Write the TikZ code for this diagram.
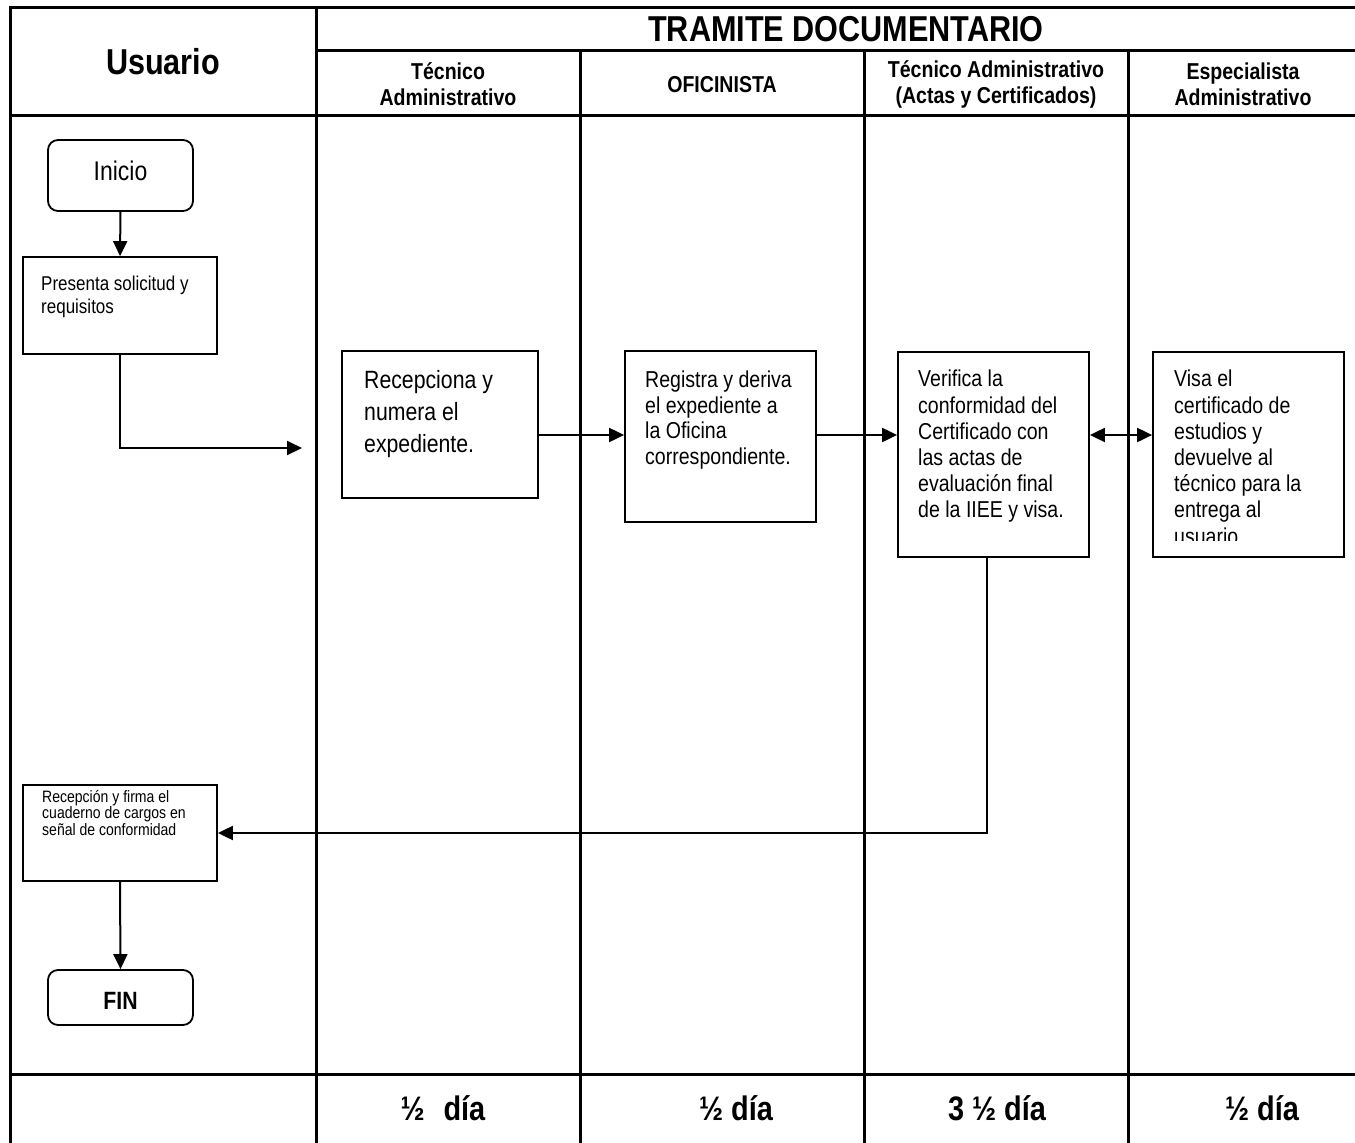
\documentclass[tikz,border=0pt]{standalone}
\usepackage{fontspec}
\setmainfont{Liberation Sans}
\newfontfamily\narrowfont[FakeStretch=0.85]{Liberation Sans}
\usetikzlibrary{arrows.meta}

\begin{document}
\begin{tikzpicture}[x=1pt,y=-1pt,
  tbl/.style={line width=3pt},
  box/.style={draw, line width=1.8pt, inner sep=0pt},
  rbox/.style={box, rounded corners=10pt},
  txt/.style={inner sep=0pt, align=left, anchor=north west, font=\narrowfont},
  head/.style={inner sep=0pt, align=center, font=\narrowfont\bfseries\fontsize{23}{26}\selectfont},
  big/.style={inner sep=0pt, font=\narrowfont\bfseries\fontsize{34}{38}\selectfont},
  title/.style={inner sep=0pt, font=\narrowfont\bfseries\fontsize{36}{40}\selectfont},
  arr/.style={line width=2pt, -{Triangle[length=15pt,width=14pt]}},
  dbl/.style={line width=2pt, {Triangle[length=15pt,width=14pt]}-{Triangle[length=15pt,width=14pt]}},
  link/.style={line width=2pt}]

\useasboundingbox (0,0) rectangle (1355,1143);

% table grid
\draw[tbl] (10,1160) -- (10,7) -- (1370,7);
\draw[tbl] (316,7) -- (316,1160);
\draw[tbl] (316,50) -- (1370,50);
\draw[tbl] (10,115) -- (1370,115);
\draw[tbl] (10,1074) -- (1370,1074);
\foreach \cx in {580,864,1128} \draw[tbl] (\cx,50) -- (\cx,1160);

% headings
\node[title] (hUser) at (163,62) {Usuario};
\node[title] (hTram) at (846,29) {TRAMITE DOCUMENTARIO};
\node[head] (hTec) at (448,84) {Técnico\\Administrativo};
\node[head] (hOfi) at (722,85) {OFICINISTA};
\node[head] (hAct) at (996,84) {Técnico Administrativo\\(Actas y Certificados)};
\node[head] (hEsp) at (1243,84) {Especialista\\Administrativo};

% process boxes
\node[rbox, minimum width=145pt, minimum height=71pt] (inicio) at (120.5,175.5) {};
\node[inner sep=0pt, font=\narrowfont\fontsize{27}{30}\selectfont] at (120.5,171) {Inicio};

\node[box, minimum width=194pt, minimum height=97pt] (pres) at (120,305.5) {};
\node[txt, font=\narrowfont\fontsize{20}{22.5}\selectfont] (presT) at (41,276) {Presenta solicitud y\\requisitos};

\node[box, minimum width=196pt, minimum height=147pt] (recep) at (440,424.5) {};
\node[txt, font=\narrowfont\fontsize{25}{32}\selectfont] (recepT) at (364,370) {Recepciona y\\numera el\\expediente.};

\node[box, minimum width=191pt, minimum height=171pt] (regis) at (720.5,436.5) {};
\node[txt, font=\narrowfont\fontsize{23}{25.5}\selectfont] (regisT) at (645,371) {Registra y deriva\\el expediente a\\la Oficina\\correspondiente.};

\node[box, minimum width=191pt, minimum height=205pt] (verif) at (993.5,454.5) {};
\node[txt, font=\narrowfont\fontsize{23}{26.2}\selectfont] (verifT) at (918,370) {Verifica la\\conformidad del\\Certificado con\\las actas de\\evaluación final\\de la IIEE y visa.};

\node[box, minimum width=191pt, minimum height=205pt] (visa) at (1248.5,454.5) {};
\begin{scope}
  \clip (1153,352) rectangle (1344,540);
  \node[txt, font=\narrowfont\fontsize{23}{26.2}\selectfont] (visaT) at (1174,370) {Visa el\\certificado de\\estudios y\\devuelve al\\técnico para la\\entrega al\\usuario};
\end{scope}

\node[box, minimum width=194pt, minimum height=96pt] (recfir) at (120,833) {};
\node[txt, font=\narrowfont\fontsize{16.5}{16.5}\selectfont] (recfirT) at (42,790) {Recepción y firma el\\cuaderno de cargos en\\señal de conformidad};

\node[rbox, minimum width=145pt, minimum height=55pt] (fin) at (120.5,997.5) {};
\node[inner sep=0pt, font=\narrowfont\bfseries\fontsize{25}{28}\selectfont] at (120.5,1001) {FIN};

% connectors
\coordinate (entry) at (302,448);
\draw[arr] (inicio.south) -- (pres.north);
\draw[arr] (pres.south) -- (pres.south |- entry) -- (entry);
\draw[arr] (recep.east |- 0,435) -- (regis.west |- 0,435);
\draw[arr] (regis.east |- 0,435) -- (verif.west |- 0,435);
\draw[dbl] (verif.east |- 0,435) -- (visa.west |- 0,435);
\draw[arr] (verif.south -| 987,0) -- (987,833) -- (recfir.east);
\draw[arr] (recfir.south) -- (fin.north);

% durations
\node[big] (d1) at (443,1108) {½\hspace{0.55em}día};
\node[big] (d2) at (736,1108) {½ día};
\node[big] (d3) at (997,1108) {3 ½ día};
\node[big] (d4) at (1262,1108) {½ día};

\end{tikzpicture}
\end{document}
